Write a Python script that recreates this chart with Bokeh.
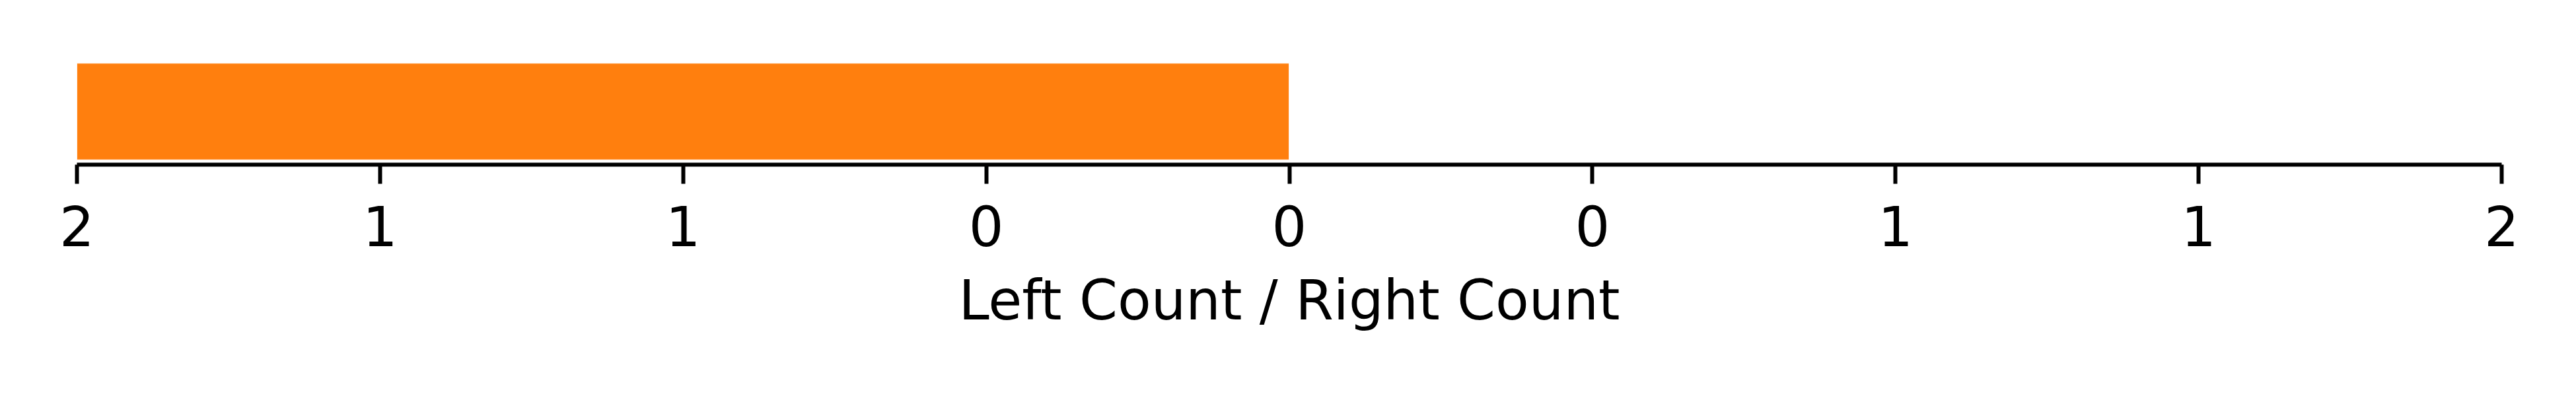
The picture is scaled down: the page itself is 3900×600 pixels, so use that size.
from bokeh.plotting import figure
from bokeh.models import Range1d, FixedTicker
from bokeh.embed import file_html
from bokeh.resources import INLINE

# Data
categories = [0]
left_counts = [2]
right_counts = [0]
tick_values = [-2, -1.5, -1, -0.5, 0, 0.5, 1, 1.5, 2]
tick_labels = ["2", "1", "1", "0", "0", "0", "1", "1", "2"]
axis_title = "Left Count / Right Count"
bar_color = "#ff7f0e"

p = figure(
    output_backend="svg",
    toolbar_location=None,
    frame_width=3671,
    frame_height=161,
    min_border_left=116,
    min_border_right=97,
    min_border_top=88,
    min_border_bottom=0,
    x_range=Range1d(-2, 2),
    y_range=Range1d(-0.44, 0.44),
    background_fill_color="white",
    border_fill_color="white",
)
p.outline_line_color = None
p.grid.visible = False
p.yaxis.visible = False

# left counts drawn as negative extents, right counts positive
p.hbar(y=categories, left=[-v for v in left_counts], right=[0 for _ in left_counts],
       height=0.8, fill_color=bar_color, line_color="white", line_width=1)
p.hbar(y=categories, left=[0 for _ in right_counts], right=right_counts,
       height=0.8, fill_color=bar_color, line_color="white", line_width=1)

ax = p.xaxis[0]
ax.ticker = FixedTicker(ticks=tick_values, minor_ticks=[])
ax.major_label_overrides = {v: s for v, s in zip(tick_values, tick_labels)}
ax.axis_label = axis_title
ax.axis_label_text_font = "DejaVu Sans"
ax.axis_label_text_font_style = "normal"
ax.axis_label_text_font_size = "83px"
ax.axis_label_text_color = "black"
ax.major_label_text_font = "DejaVu Sans"
ax.major_label_text_font_size = "83px"
ax.major_label_text_color = "black"
ax.axis_line_color = "black"
ax.axis_line_width = 6
ax.major_tick_line_color = "black"
ax.major_tick_line_width = 6
ax.major_tick_out = 29
ax.major_tick_in = 0
ax.minor_tick_line_color = None
ax.major_label_standoff = 32
ax.axis_label_standoff = 31

open("out.html", "w").write(file_html(p, INLINE))
